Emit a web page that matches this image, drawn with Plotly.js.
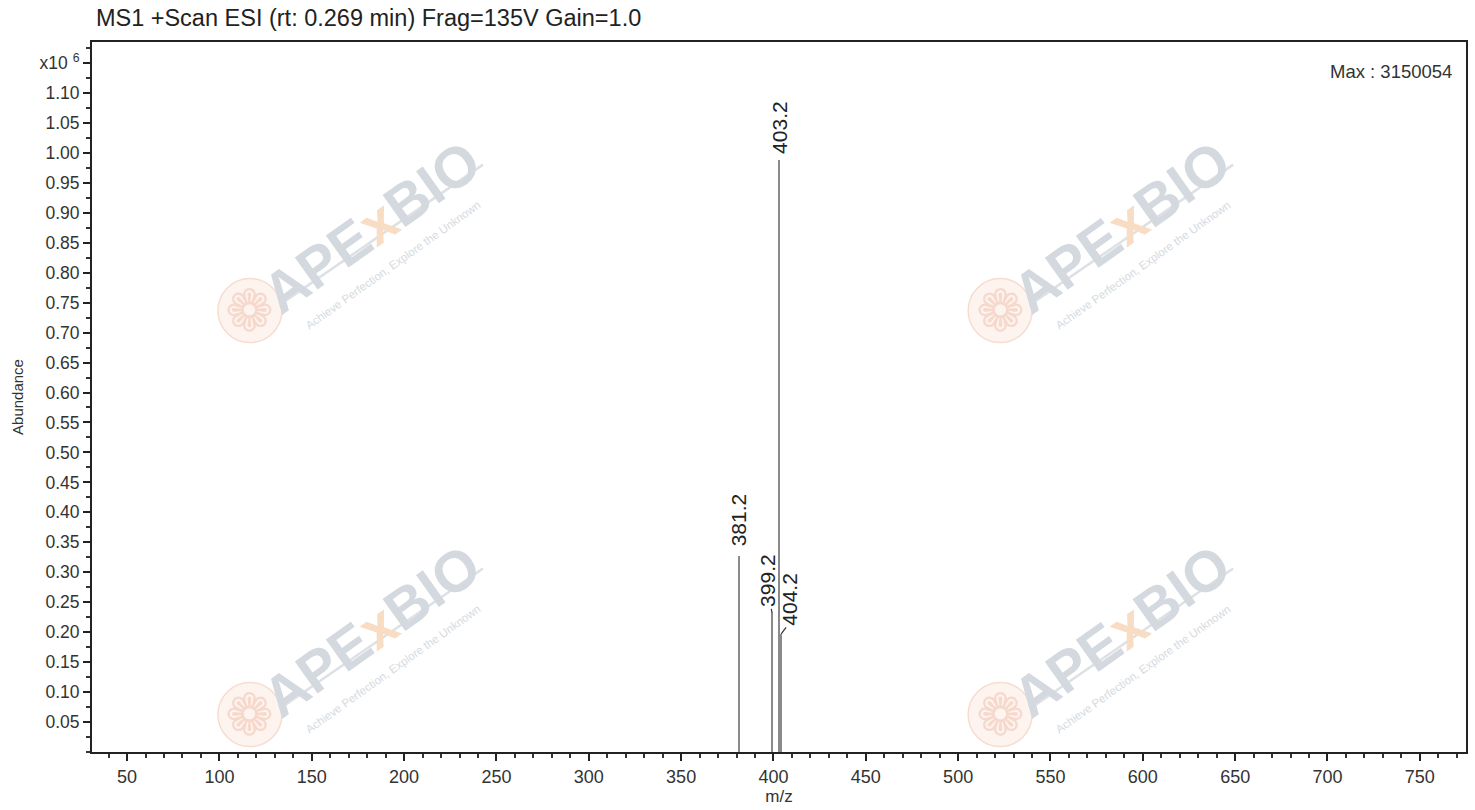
<!DOCTYPE html>
<html>
<head>
<meta charset="utf-8">
<script src="https://cdn.plot.ly/plotly-3.0.1.min.js"></script>
<style>html,body{margin:0;padding:0;background:#fff;}#chart{width:1475px;height:810px;}</style>
</head>
<body>
<div id="chart"></div>
<script>
// ---- data (abundance in x10^6) ----
var peakMz = [381.2, 399.2, 403.2, 404.2];
var peakAbundance = [0.327, 0.233, 0.988, 0.197];
var peakLabels = ['381.2', '399.2', '403.2', '404.2'];

var xTickVals = [50, 100, 150, 200, 250, 300, 350, 400, 450, 500, 550, 600, 650, 700, 750];
var xTickText = ['50', '100', '150', '200', '250', '300', '350', '400', '450', '500', '550', '600', '650', '700', '750'];
var yTickVals = [0.05, 0.10, 0.15, 0.20, 0.25, 0.30, 0.35, 0.40, 0.45, 0.50, 0.55, 0.60, 0.65, 0.70, 0.75, 0.80, 0.85, 0.90, 0.95, 1.00, 1.05, 1.10, 1.15];
var yTickText = ['0.05', '0.10', '0.15', '0.20', '0.25', '0.30', '0.35', '0.40', '0.45', '0.50', '0.55', '0.60', '0.65', '0.70', '0.75', '0.80', '0.85', '0.90', '0.95', '1.00', '1.05', '1.10', 'x10 <sup>6</sup>'];

var titleText = 'MS1 +Scan ESI (rt: 0.269 min) Frag=135V Gain=1.0';
var maxText = 'Max : 3150054';
var wmMain = '<b>APE<span style="color:#f8dcc4">x</span>BIO</b>';
var wmSub = 'Achieve Perfection, Explore the Unknown';

var FONT = 'Liberation Sans, Arial, sans-serif';

var trace = {
  type: 'bar',
  x: peakMz,
  y: peakAbundance,
  width: 1.1,
  marker: {color: '#8a8a8a', line: {width: 0}},
  hoverinfo: 'x+y'
};

// peak label placement (pixel shifts) and small leader arrows
var labelStyle = [
  {dx: 0, dy: 8, arrow: null},
  {dx: -4, dy: 4, arrow: [-1, -5]},
  {dx: 0, dy: 4, arrow: null},
  {dx: 8, dy: 6, arrow: [6, -8]}
];
var annotations = [];
peakMz.forEach(function (mz, i) {
  var s = labelStyle[i];
  annotations.push({
    x: mz, y: peakAbundance[i], xref: 'x', yref: 'y',
    text: peakLabels[i], textangle: -90, showarrow: false,
    xanchor: 'center', yanchor: 'bottom', xshift: s.dx, yshift: s.dy,
    font: {family: FONT, size: 21, color: '#222'}
  });
  if (s.arrow) {
    annotations.push({
      x: mz, y: peakAbundance[i], xref: 'x', yref: 'y',
      text: '', showarrow: true, arrowhead: 0, arrowwidth: 1.2, arrowcolor: '#333',
      standoff: 0, ax: s.arrow[0], ay: s.arrow[1]
    });
  }
});
annotations.push({
  xref: 'paper', yref: 'paper', x: 0.991, y: 0.959, xanchor: 'right', yanchor: 'middle',
  text: maxText, showarrow: false, font: {family: FONT, size: 18.5, color: '#333'}
});

// watermarks (paper coordinates of the logo centres)
var W = 1374, H = 710;
var wmPos = [[0.203, 0.740], [0.749, 0.740], [0.203, 0.171], [0.749, 0.171]];
var shapes = [];
wmPos.forEach(function (p) {
  var fx = p[0] - 121 / W, fy = p[1] - 84 / H, fr = 32;
  shapes.push({type: 'circle', xref: 'paper', yref: 'paper', layer: 'below',
    x0: fx - fr / W, x1: fx + fr / W, y0: fy - fr / H, y1: fy + fr / H,
    fillcolor: '#fdf4f0', line: {color: '#f7dcd0', width: 1.5}});
  annotations.push({
    xref: 'paper', yref: 'paper', x: fx, y: fy, xanchor: 'center', yanchor: 'middle', showarrow: false,
    text: '&#10049;', font: {family: 'DejaVu Sans', size: 58, color: '#f6d9cc'}
  });
  shapes.push({type: 'line', xref: 'paper', yref: 'paper', layer: 'below',
    x0: p[0] - 88 / W, y0: p[1] - 76 / H, x1: p[0] + 112 / W, y1: p[1] + 62 / H,
    line: {color: '#dde1e5', width: 2.5}});
  annotations.push({
    xref: 'paper', yref: 'paper', x: p[0], y: p[1], xanchor: 'center', yanchor: 'middle',
    showarrow: false, textangle: -35.5,
    text: wmMain, font: {family: FONT, size: 57, color: '#d3d9df'}
  });
  annotations.push({
    xref: 'paper', yref: 'paper', x: p[0] + 22 / W, y: p[1] - 38 / H, xanchor: 'center', yanchor: 'middle',
    showarrow: false, textangle: -35.5,
    text: wmSub, font: {family: FONT, size: 11.5, color: '#d5dbe1'}
  });
});

var layout = {
  width: 1475, height: 810,
  margin: {l: 92, r: 9, t: 42, b: 58},
  paper_bgcolor: '#fff', plot_bgcolor: 'rgba(0,0,0,0)',
  showlegend: false,
  bargap: 0,
  title: {text: titleText, x: 0.065, xanchor: 'left', y: 0.978, yanchor: 'middle',
          font: {family: FONT, size: 23.5, color: '#222'}},
  xaxis: {
    range: [31, 775], showgrid: false, zeroline: false,
    tickmode: 'array', tickvals: xTickVals, ticktext: xTickText,
    ticks: 'outside', ticklen: 7, tickwidth: 2, tickcolor: '#222',
    minor: {dtick: 10, tick0: 0, ticks: 'outside', ticklen: 4, tickwidth: 2, tickcolor: '#333'},
    showline: true, linecolor: '#222', linewidth: 2, mirror: true,
    tickfont: {family: FONT, size: 18, color: '#333'},
    title: {text: 'm/z', standoff: 4, font: {family: FONT, size: 17, color: '#333'}}
  },
  yaxis: {
    range: [0, 1.185], showgrid: false, zeroline: false,
    tickmode: 'array', tickvals: yTickVals, ticktext: yTickText,
    ticks: 'outside', ticklen: 7, tickwidth: 2, tickcolor: '#222',
    minor: {dtick: 0.025, tick0: 0, ticks: 'outside', ticklen: 4, tickwidth: 2, tickcolor: '#333'},
    showline: true, linecolor: '#222', linewidth: 2, mirror: true,
    tickfont: {family: FONT, size: 17.5, color: '#333'},
    title: {text: 'Abundance', standoff: 12, font: {family: FONT, size: 15, color: '#333'}}
  },
  shapes: shapes,
  annotations: annotations
};

Plotly.newPlot('chart', [trace], layout, {displayModeBar: false, staticPlot: true});
</script>
</body>
</html>
